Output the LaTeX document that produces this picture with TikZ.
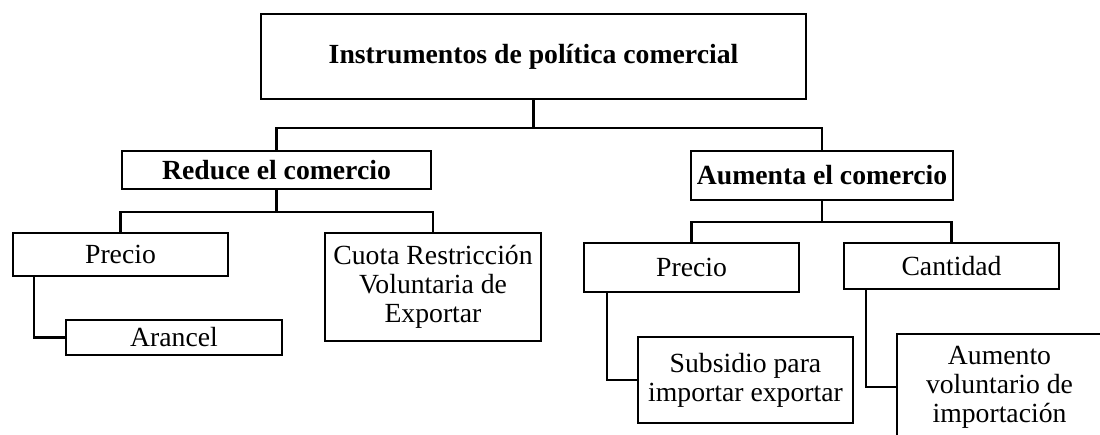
\documentclass[tikz,border=0pt]{standalone}
\usepackage{fontspec}
\setmainfont{Liberation Serif}
\usetikzlibrary{positioning}

\begin{document}
\begin{tikzpicture}[x=1pt,y=-1pt,line width=2.2pt,
            caja/.style={draw,line width=2.2pt,outer sep=0pt,inner sep=0pt,align=center,
                font=\fontsize{27.7pt}{29pt}\selectfont},
            titulo/.style={caja,font=\fontsize{27.7pt}{29pt}\selectfont\bfseries}]
            \useasboundingbox (0,0) rectangle (1100,435);
            \node[titulo,minimum width=545pt,minimum height=85pt] (instrumentos) at (533.5,56.5) {Instrumentos de política comercial};
            \node[titulo,minimum width=309pt,minimum height=38pt] (reduce) at (276.5,170) {Reduce el comercio};
            \node[titulo,minimum width=262pt,minimum height=49pt] (aumenta) at (822,175.5) {Aumenta el comercio};
            % reduce el comercio
            \node[caja,minimum width=215pt,minimum height=43pt] (precioR) at (120.5,254.5) {Precio};
            \node[caja,minimum width=216pt,minimum height=35pt] (arancel) at (174,337.5) {Arancel};
            \node[caja,minimum width=216pt,minimum height=108pt] (cuota) at (433,287) {Cuota Restricción\\Voluntaria de\\Exportar};
            % aumenta el comercio
            \node[caja,minimum width=215pt,minimum height=49pt] (precioA) at (691.5,267.5) {Precio};
            \node[caja,minimum width=215pt,minimum height=46pt] (cantidad) at (951.5,266) {Cantidad};
            \node[caja,minimum width=215pt,minimum height=86pt] (subsidio) at (745.5,380) {Subsidio para\\importar exportar};
            \node[caja,minimum width=205pt,minimum height=106pt] (aumento) at (999.5,387) {Aumento\\voluntario de\\importación};
            \draw (instrumentos.south) -- ++(0,29) coordinate (j1);
            \draw (reduce.north) |- (j1) -| (aumenta.north);
            \draw (reduce.south) -- ++(0,23) coordinate (j2);
            \draw (precioR.north) |- (j2) -| (cuota.north);
            \draw (aumenta.south) -- ++(0,22) coordinate (j3);
            \draw (precioA.north) |- (j3) -| (cantidad.north);
            \draw ([xshift=21pt]precioR.south west) |- (arancel.west);
            \draw ([xshift=23pt]precioA.south west) |- (subsidio.west);
            \draw ([xshift=22pt]cantidad.south west) |- (aumento.west);
        \end{tikzpicture}
\end{document}
